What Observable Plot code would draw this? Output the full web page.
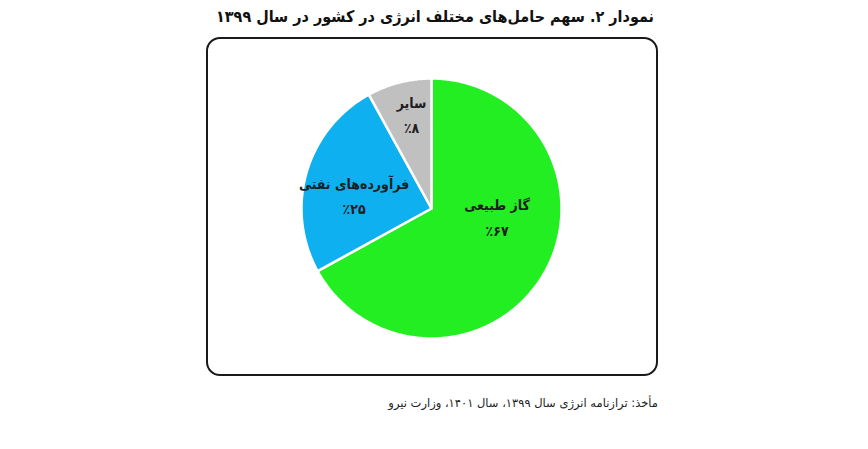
<!DOCTYPE html>
<html lang="fa">
<head>
<meta charset="utf-8">
<script src="https://cdn.jsdelivr.net/npm/d3@7"></script>
<script src="https://cdn.jsdelivr.net/npm/@observablehq/plot@0.6"></script>
<style>
  html, body { margin: 0; padding: 0; background: #fff; }
  #wrap { position: relative; width: 868px; height: 449px; overflow: hidden; font-family: "DejaVu Sans", sans-serif; }
  #title { position: absolute; top: 7px; left: 0; width: 870px; text-align: center; direction: rtl;
           font-family: "DejaVu Sans Condensed", "DejaVu Sans", sans-serif;
           font-size: 16px; font-weight: bold; color: #111; }
  #frame { position: absolute; left: 206px; top: 37px; width: 448px; height: 335px;
           border: 2px solid #1a1a1a; border-radius: 14px; }
  #chart { position: absolute; left: 208px; top: 39px; }
  #caption { position: absolute; top: 396px; right: 210px; direction: rtl; font-size: 11.5px; color: #222; }
</style>
</head>
<body>
<div id="wrap">
  <div id="title">نمودار ۲. سهم حامل‌های مختلف انرژی در کشور در سال ۱۳۹۹</div>
  <div id="frame"></div>
  <div id="chart"></div>
  <div id="caption">مأخذ: ترازنامه انرژی سال ۱۳۹۹، سال ۱۴۰۱، وزارت نیرو</div>
</div>
<script>
// ---- data ----
const categories = ["گاز طبیعی", "فرآورده‌های نفتی", "سایر"];
const shares = [67, 25, 8];
const percentLabels = ["٪۶۷", "٪۲۵", "٪۸"];
const colors = ["#22ee22", "#0fb0f0", "#c0c0c0"];

// ---- geometry from the library ----
const data = categories.map((c, i) => ({category: c, value: shares[i], pct: percentLabels[i]}));
const arcs = d3.pie().sort(null).value(d => d.value)(data);

// polygon points for each slice (unit circle, y up), angles clockwise from 12 o'clock
const pts = [];
arcs.forEach(a => {
  const n = Math.max(4, Math.ceil((a.endAngle - a.startAngle) / 0.01));
  pts.push({category: a.data.category, x: 0, y: 0});
  for (let k = 0; k <= n; k++) {
    const t = a.startAngle + (a.endAngle - a.startAngle) * k / n;
    pts.push({category: a.data.category, x: Math.sin(t), y: Math.cos(t)});
  }
  pts.push({category: a.data.category, x: 0, y: 0});
});

const labelR = [0.55, 0.66, 0.74];
const labels = arcs.map((a, i) => {
  const m = (a.startAngle + a.endAngle) / 2;
  return {category: a.data.category, text: a.data.category + "\n" + a.data.pct,
          x: labelR[i] * Math.sin(m), y: labelR[i] * Math.cos(m)};
});
const nudge = {[categories[0]]: [4, -30], [categories[1]]: [5, 9], [categories[2]]: [4, -3]};

const W = 448, H = 335, cx = 223, cy = 169, R = 130;
const textMarks = labels.map(l => Plot.text([l], {
  x: "x", y: "y", text: "text", fill: "#1e1e1e", fontSize: 14, fontWeight: "bold",
  lineHeight: 1.8, dx: nudge[l.category][0], dy: nudge[l.category][1],
  fontFamily: "DejaVu Sans Condensed, DejaVu Sans"
}));

const chart = Plot.plot({
  width: W, height: H,
  margin: 0,
  x: {domain: [-1, 1], range: [cx - R, cx + R], axis: null},
  y: {domain: [-1, 1], range: [cy + R, cy - R], axis: null},
  color: {domain: categories, range: colors},
  marks: [
    Plot.line(pts, {x: "x", y: "y", z: "category", fill: "category", stroke: "white", strokeWidth: 2.5, curve: "linear"}),
    ...textMarks
  ]
});
chart.style.background = "transparent";
document.getElementById("chart").append(chart);
</script>
</body>
</html>
